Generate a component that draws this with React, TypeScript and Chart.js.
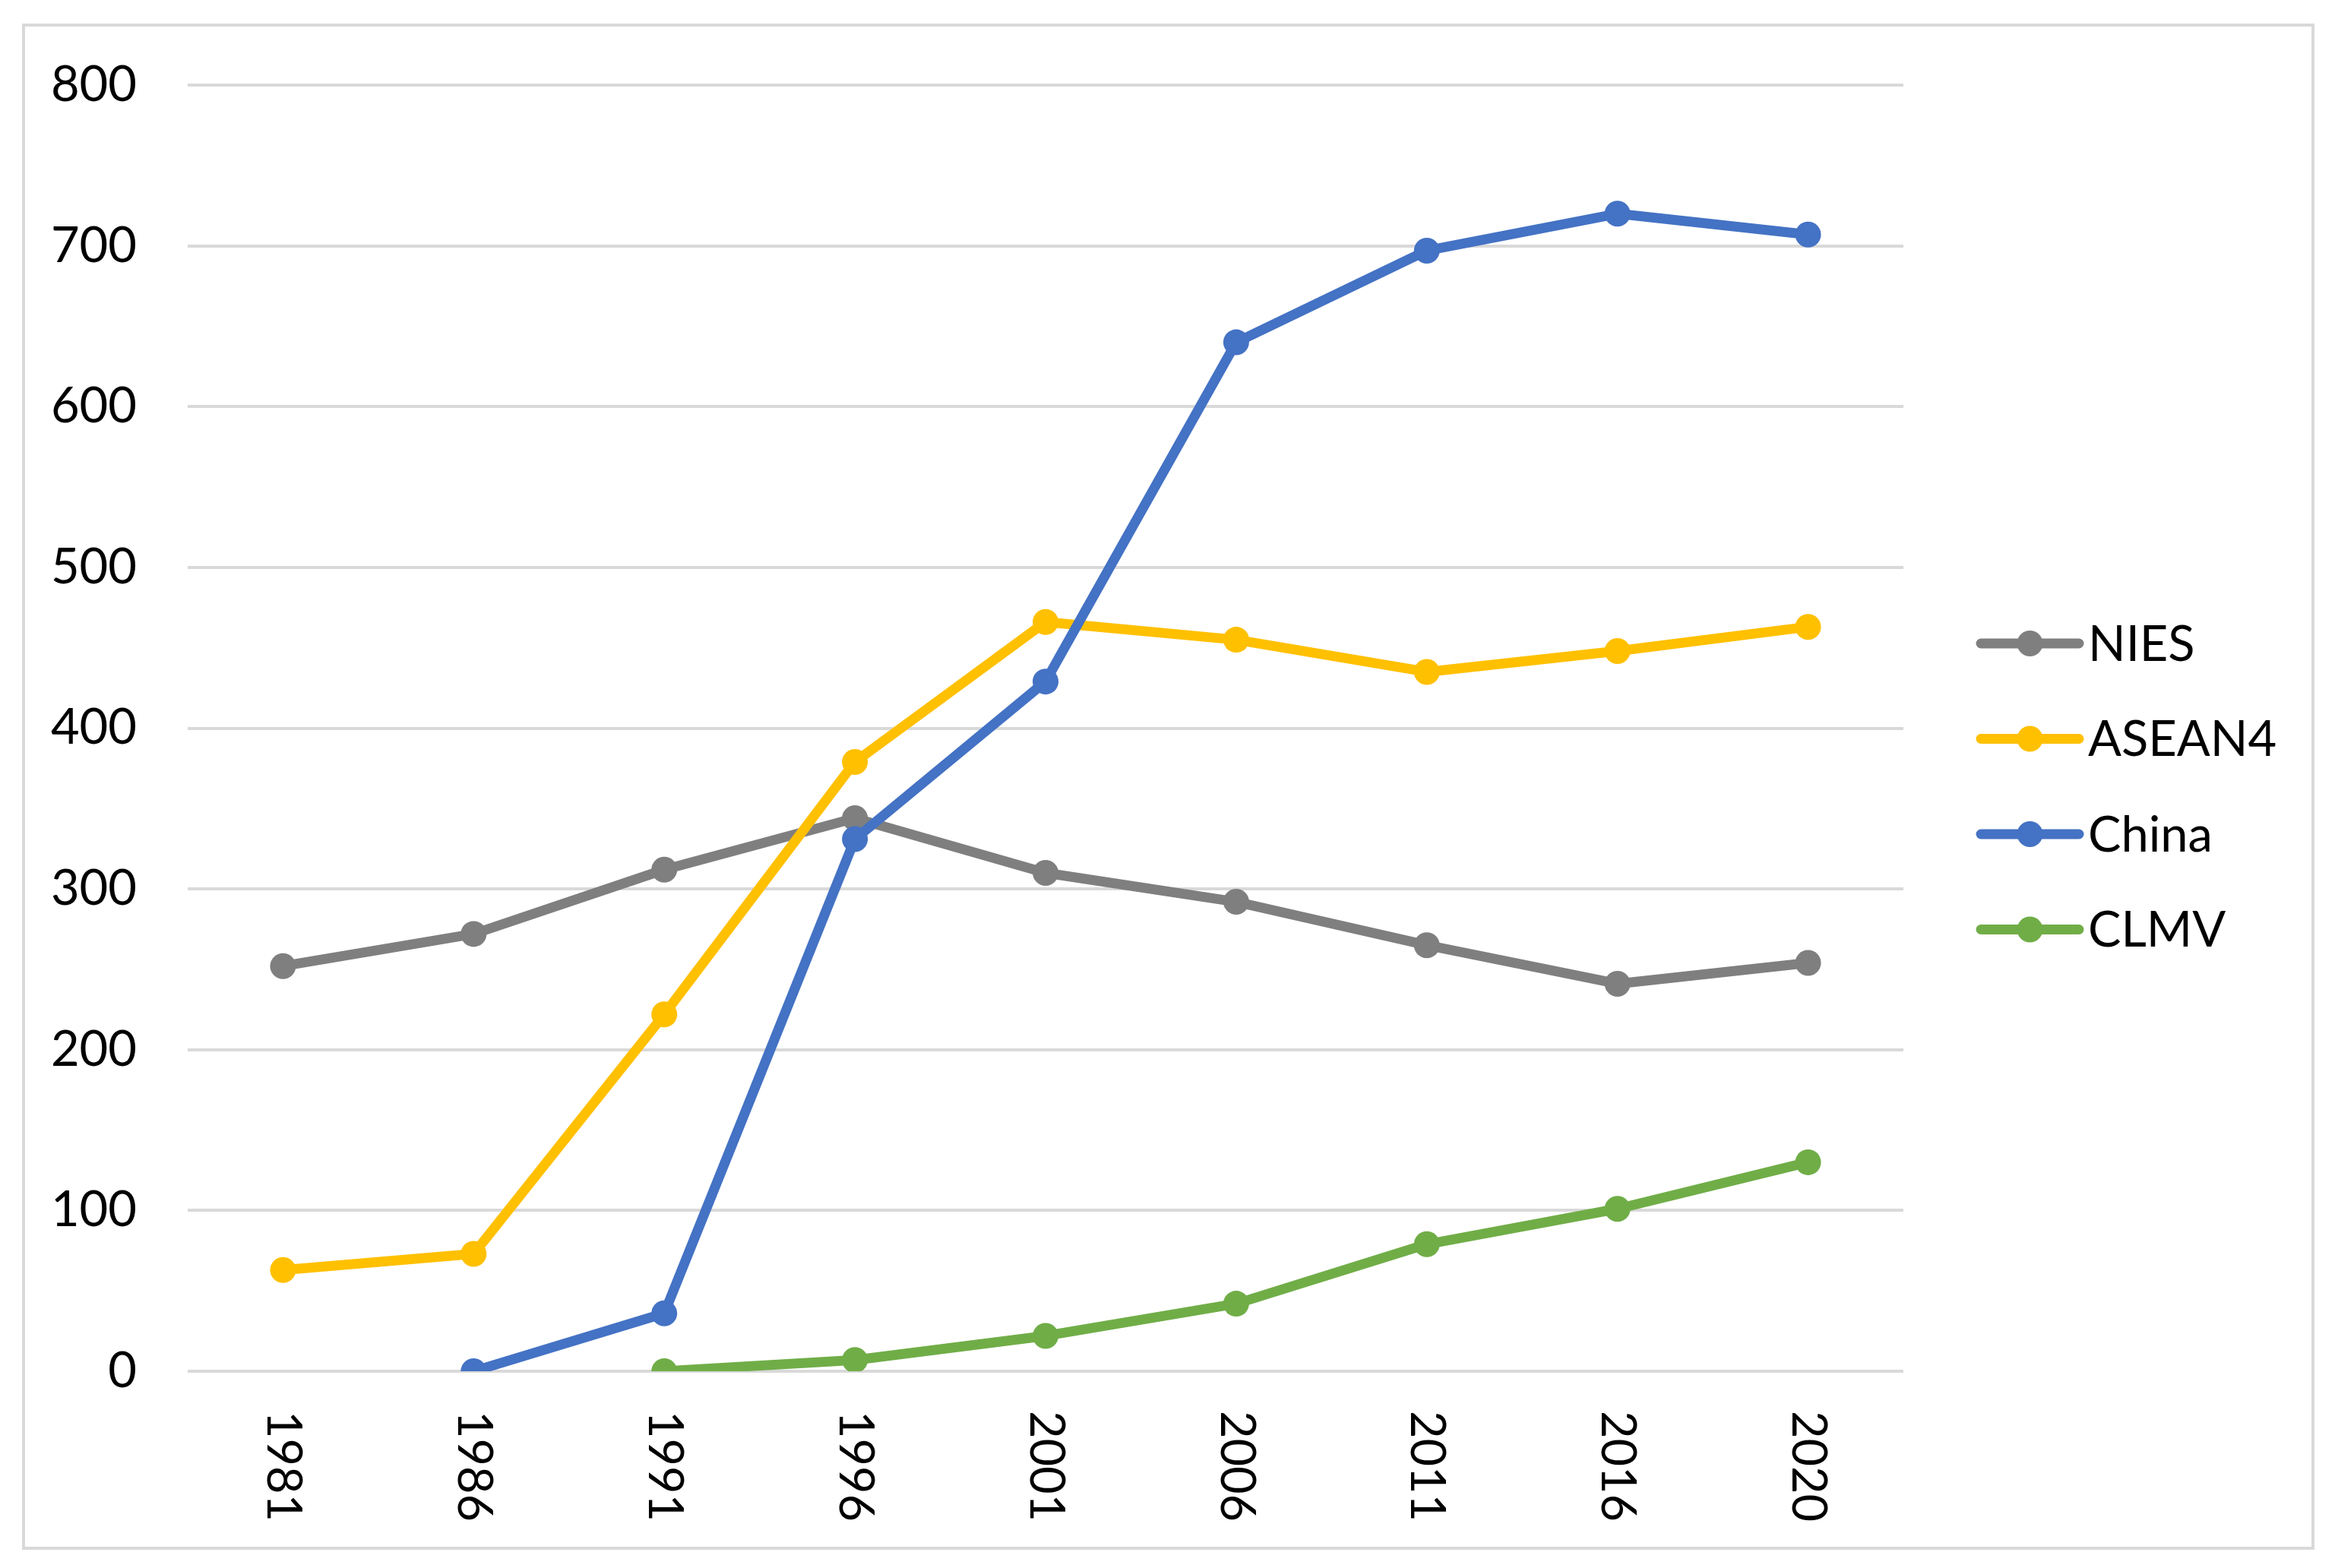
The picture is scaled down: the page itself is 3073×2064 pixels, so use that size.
import React, { useEffect, useRef } from 'react';
import { Chart, registerables } from 'chart.js';

Chart.register(...registerables);

const categories = ['1981', '1986', '1991', '1996', '2001', '2006', '2011', '2016', '2020'];
const niesValues = [252, 272, 312, 344, 310, 292, 265, 241, 254];
const asean4Values = [63, 73, 222, 379, 466, 455, 435, 448, 463];
const chinaValues = [null, 0, 36, 331, 429, 640, 697, 720, 707];
const clmvValues = [null, null, 0, 7, 22, 42, 79, 101, 130];
const seriesNames = ['NIES', 'ASEAN4', 'China', 'CLMV'];
const seriesColors = ['#7f7f7f', '#ffc000', '#4472c4', '#70ad47'];
const yMin = 0;
const yMax = 800;
const yStep = 100;

const FONT = 'Lato, "Noto Sans", sans-serif';
const FONT_SIZE = 63;

const frameAndLabels = {
  id: 'frameAndLabels',
  beforeDraw(chart: any) {
    const ctx = chart.ctx;
    ctx.save();
    ctx.fillStyle = '#ffffff';
    ctx.fillRect(0, 0, chart.width, chart.height);
    ctx.strokeStyle = '#d9d9d9';
    ctx.lineWidth = 4;
    ctx.strokeRect(31, 33, chart.width - 31 - 29, chart.height - 33 - 26);
    ctx.restore();
  },
  afterDraw(chart: any) {
    const ctx = chart.ctx;
    const xs = chart.scales.x;
    ctx.save();
    ctx.fillStyle = '#000000';
    ctx.font = `${FONT_SIZE}px ${FONT}`;
    ctx.textAlign = 'left';
    ctx.textBaseline = 'middle';
    categories.forEach((lab, i) => {
      const px = xs.getPixelForTick(i);
      ctx.save();
      ctx.translate(px, xs.top + 52);
      ctx.rotate(Math.PI / 2);
      ctx.fillText(lab, 0, 0);
      ctx.restore();
    });

    // legend
    const area = chart.chartArea;
    const lx0 = area.right + 102;
    const lx1 = area.right + 231;
    const ly0 = 847;
    const lstep = 125.5;
    ctx.font = `${FONT_SIZE + 2}px ${FONT}`;
    chart.data.datasets.forEach((ds: any, i: number) => {
      const y = ly0 + i * lstep;
      ctx.strokeStyle = ds.borderColor;
      ctx.lineWidth = 13;
      ctx.lineCap = 'round';
      ctx.beginPath();
      ctx.moveTo(lx0, y);
      ctx.lineTo(lx1, y);
      ctx.stroke();
      ctx.fillStyle = ds.borderColor;
      ctx.beginPath();
      ctx.arc((lx0 + lx1) / 2, y, 17, 0, Math.PI * 2);
      ctx.fill();
      ctx.fillStyle = '#000000';
      ctx.textAlign = 'left';
      ctx.textBaseline = 'middle';
      ctx.fillText(ds.label, lx1 + 12, y + 2);
    });
    ctx.restore();
  },
};

export default function App() {
  const ref = useRef<HTMLCanvasElement | null>(null);

  useEffect(() => {
    document.body.style.margin = '0';
    if (!ref.current) return;
    const values = [niesValues, asean4Values, chinaValues, clmvValues];
    const chart = new Chart(ref.current, {
      type: 'line',
      data: {
        labels: categories,
        datasets: values.map((v, i) => ({
          label: seriesNames[i],
          data: v,
          borderColor: seriesColors[i],
          backgroundColor: seriesColors[i],
          pointBackgroundColor: seriesColors[i],
          pointBorderColor: seriesColors[i],
          pointBorderWidth: 0,
          pointRadius: 17,
          pointHoverRadius: 17,
          borderWidth: 13,
          borderJoinStyle: 'round',
          borderCapStyle: 'round',
          tension: 0,
          spanGaps: false,
          order: 4 - i,
        })),
      },
      options: {
        animation: false,
        responsive: true,
        maintainAspectRatio: false,
        devicePixelRatio: 1,
        layout: { padding: { top: 112, right: 568, bottom: 0, left: 0 } },
        plugins: {
          legend: { display: false },
          tooltip: { enabled: false },
        },
        scales: {
          x: {
            type: 'category',
            offset: true,
            grid: { display: false, drawTicks: false },
            border: { display: false },
            ticks: {
              color: 'rgba(0,0,0,0)',
              minRotation: 90,
              maxRotation: 90,
              padding: 50,
              font: { family: FONT, size: FONT_SIZE },
            },
            afterFit: (scale: any) => {
              scale.height = 259;
            },
          },
          y: {
            min: yMin,
            max: yMax,
            grid: { color: '#d9d9d9', lineWidth: 4, drawTicks: false },
            border: { display: false },
            ticks: {
              stepSize: yStep,
              color: '#000000',
              padding: 67,
              font: { family: FONT, size: FONT_SIZE + 2 },
            },
            afterFit: (scale: any) => {
              scale.width = 247;
            },
          },
        },
      },
      plugins: [frameAndLabels],
    });
    return () => chart.destroy();
  }, []);

  return (
    <div style={{ position: 'absolute', left: 0, top: 0, width: 3073, height: 2064 }}>
      <canvas ref={ref} />
    </div>
  );
}
